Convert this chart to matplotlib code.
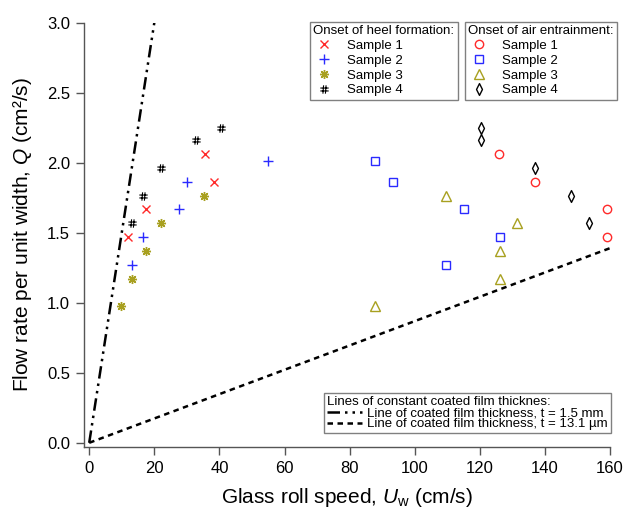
import matplotlib
matplotlib.use('Agg')
import matplotlib.pyplot as plt
from matplotlib.path import Path
from matplotlib.lines import Line2D

plt.rcParams['font.family'] = ['Liberation Sans', 'DejaVu Sans']
plt.rcParams['mathtext.fontset'] = 'custom'
plt.rcParams['mathtext.rm'] = 'Liberation Sans'
plt.rcParams['mathtext.it'] = 'Liberation Sans:italic'

# ---- data: onset of heel formation ----
heel_s1_u = [12.0, 17.6, 35.6, 38.4]
heel_s1_q = [1.47, 1.67, 2.06, 1.86]
heel_s2_u = [13.2, 16.6, 27.5, 30.0, 54.9]
heel_s2_q = [1.27, 1.47, 1.67, 1.86, 2.01]
heel_s3_u = [9.8, 13.2, 17.6, 22.0, 35.2]
heel_s3_q = [0.98, 1.17, 1.37, 1.57, 1.76]
heel_s4_u = [13.2, 16.6, 22.0, 32.9, 40.6]
heel_s4_q = [1.57, 1.76, 1.96, 2.16, 2.25]

# ---- data: onset of air entrainment ----
air_s1_u = [126.0, 137.1, 159.0, 159.0]
air_s1_q = [2.06, 1.86, 1.67, 1.47]
air_s2_u = [87.7, 93.2, 115.2, 126.1, 109.6]
air_s2_q = [2.01, 1.86, 1.67, 1.47, 1.27]
air_s3_u = [87.7, 109.6, 131.5, 126.1, 126.1]
air_s3_q = [0.98, 1.76, 1.57, 1.37, 1.17]
air_s4_u = [120.5, 120.5, 137.1, 148.0, 153.5]
air_s4_q = [2.25, 2.16, 1.96, 1.76, 1.57]

# ---- lines of constant coated film thickness ----
line1_u = [0, 20.0]
line1_q = [0, 3.0]
line2_u = [0, 160.0]
line2_q = [0, 1.39]

x_ticks = [0, 20, 40, 60, 80, 100, 120, 140, 160]
y_ticks = [0.0, 0.5, 1.0, 1.5, 2.0, 2.5, 3.0]

red = '#ff2a2a'
blue = '#2a2aff'
olive = '#a8a020'
black = '#000000'

hash_marker = Path(
    [(-0.38, -1), (-0.22, 1), (0.22, -1), (0.38, 1),
     (-1, -0.35), (1, -0.35), (-1, 0.35), (1, 0.35)],
    [Path.MOVETO, Path.LINETO] * 4)
thin_diamond = Path(
    [(0, 1), (0.5, 0), (0, -1), (-0.5, 0), (0, 1)],
    [Path.MOVETO, Path.LINETO, Path.LINETO, Path.LINETO, Path.CLOSEPOLY])
asterisk = (8, 2, 0)

W, H = 623, 516
fig = plt.figure(figsize=(W / 100, H / 100), dpi=100)
ax = fig.add_axes([84 / W, 1 - 447 / H, (610 - 84) / W, (447 - 22.7) / H])
ax.set_xlim(-1.6, 160)
ax.set_ylim(-0.03, 3.0)

spine_col = '#555555'
for s in ['top', 'right']:
    ax.spines[s].set_visible(False)
for s in ['left', 'bottom']:
    ax.spines[s].set_color(spine_col)
    ax.spines[s].set_linewidth(1.0)
ax.tick_params(direction='out', length=6, width=1.0, color=spine_col,
               labelsize=12, pad=4)
ax.set_xticks(x_ticks)
ax.set_xticklabels([str(v) for v in x_ticks])
ax.set_yticks(y_ticks)
ax.set_yticklabels(['%.1f' % v for v in y_ticks])

ax.set_xlabel(r'Glass roll speed, $\mathit{U}_{\mathrm{w}}$ (cm/s)', fontsize=15, labelpad=7)
ax.set_ylabel(r'Flow rate per unit width, $\mathit{Q}$ (cm²/s)', fontsize=15, labelpad=9)

# lines
l1, = ax.plot(line1_u, line1_q, color='black', lw=1.8,
              dashes=(5, 2, 1, 2, 1, 2), dash_capstyle='butt')
l2, = ax.plot(line2_u, line2_q, color='black', lw=1.8, dashes=(2.2, 1.8))

ms_kw = dict(ls='none', mfc='none', mew=1.0, clip_on=False)
h1, = ax.plot(heel_s1_u, heel_s1_q, marker='x', color=red, ms=6, **ms_kw)
h2, = ax.plot(heel_s2_u, heel_s2_q, marker='+', color=blue, ms=7.5, **ms_kw)
h3, = ax.plot(heel_s3_u, heel_s3_q, marker=asterisk, color=olive, ms=6.5, **ms_kw)
h4, = ax.plot(heel_s4_u, heel_s4_q, marker=hash_marker, color=black, ms=6, mew=0.8,
              ls='none', mfc='none', clip_on=False)

a1, = ax.plot(air_s1_u, air_s1_q, marker='o', color=red, ms=6, **ms_kw)
a2, = ax.plot(air_s2_u, air_s2_q, marker='s', color=blue, ms=5.5, **ms_kw)
a3, = ax.plot(air_s3_u, air_s3_q, marker='^', color=olive, ms=6.5, **ms_kw)
a4, = ax.plot(air_s4_u, air_s4_q, marker=thin_diamond, color=black, ms=8.5, **ms_kw)

labels = ['Sample 1', 'Sample 2', 'Sample 3', 'Sample 4']
leg_kw = dict(fontsize=9.5, title_fontsize=9.5, frameon=True, fancybox=False,
              framealpha=1, edgecolor='#808080', borderpad=0.25,
              labelspacing=0.2, handlelength=1.6, handletextpad=0.95,
              borderaxespad=0, alignment='left',
              bbox_transform=fig.transFigure, loc='upper left')

leg1 = ax.legend([h1, h2, h3, h4], labels, title='Onset of heel formation:',
                 bbox_to_anchor=(310 / W, 1 - 21.7 / H), **leg_kw)
leg1.get_frame().set_linewidth(1.0)
ax.add_artist(leg1)
leg2 = ax.legend([a1, a2, a3, a4], labels, title='Onset of air entrainment:',
                 bbox_to_anchor=(465 / W, 1 - 21.7 / H), **leg_kw)
leg2.get_frame().set_linewidth(1.0)
ax.add_artist(leg2)

leg3_kw = dict(leg_kw)
leg3_kw.update(labelspacing=-0.1, handlelength=2.6, handletextpad=0.4)
leg3 = ax.legend([l1, l2],
                 ['Line of coated film thickness, t = 1.5 mm',
                  'Line of coated film thickness, t = 13.1 µm'],
                 title='Lines of constant coated film thicknes:',
                 bbox_to_anchor=(324 / W, 1 - 393 / H), **leg3_kw)
leg3.get_frame().set_linewidth(1.0)

fig.savefig('out.png', dpi=100)
